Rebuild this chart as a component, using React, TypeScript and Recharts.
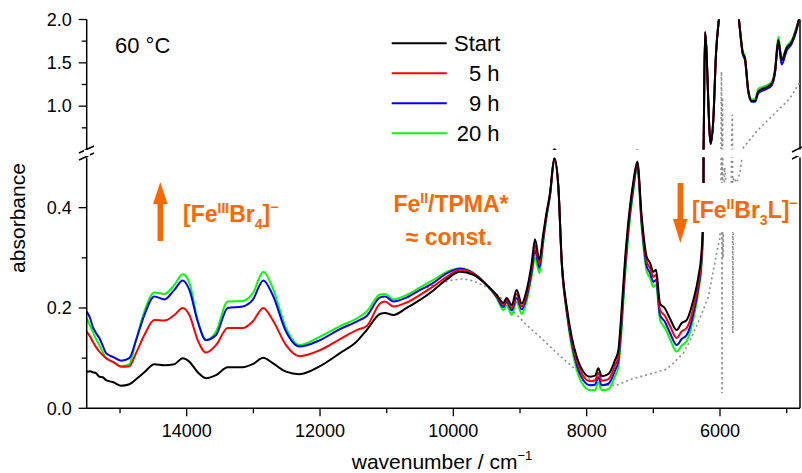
import { LineChart, Line, XAxis, YAxis, ReferenceLine } from 'recharts';

// wavenumber grid (cm-1) shared by the four kinetic spectra
const wavenumbers = [
  15500, 15450, 15410, 15360, 15310, 15260, 15210, 15100, 14985, 14860,
  14760, 14635, 14485, 14335, 14185, 14060, 13960, 13835, 13710, 13560,
  13385, 13160, 13010, 12850, 12710, 12510, 12310, 12000, 11700, 11450,
  11300, 11100, 11025, 10900, 10700, 10500, 10300, 10100, 9900, 9700,
  9500, 9350, 9250, 9200, 9125, 9050, 8975, 8900, 8825, 8775,
  8710, 8650, 8600, 8550, 8485, 8425, 8375, 8300, 8225, 8150,
  8050, 7950, 7875, 7825, 7775, 7675, 7575, 7525, 7490, 7425,
  7375, 7300, 7240, 7175, 7100, 7050, 7000, 6960, 6900, 6825,
  6750, 6650, 6575, 6500, 6400, 6325, 6275, 6250, 6225, 6140,
  6100, 6060, 6010, 5900, 5725, 5660, 5625, 5575, 5525, 5475,
  5425, 5300, 5225, 5175, 5125, 5075, 5000, 4925, 4850, 4800,
];

const start = [
  0.073, 0.074, 0.072, 0.070, 0.063, 0.062, 0.056, 0.052, 0.045, 0.048,
  0.058, 0.072, 0.088, 0.086, 0.088, 0.100, 0.093, 0.072, 0.060, 0.066,
  0.082, 0.082, 0.088, 0.101, 0.090, 0.073, 0.068, 0.084, 0.110, 0.133,
  0.156, 0.188, 0.190, 0.186, 0.200, 0.216, 0.235, 0.257, 0.272, 0.266,
  0.246, 0.226, 0.210, 0.220, 0.206, 0.236, 0.209, 0.236, 0.289, 0.337,
  0.296, 0.349, 0.392, 0.429, 0.499, 0.442, 0.296, 0.203, 0.143, 0.103,
  0.073, 0.063, 0.065, 0.080, 0.064, 0.068, 0.096, 0.116, 0.170, 0.296,
  0.372, 0.452, 0.492, 0.382, 0.302, 0.290, 0.272, 0.276, 0.209, 0.199,
  0.179, 0.156, 0.170, 0.176, 0.216, 0.262, 0.316, 0.400, 1.860, 0.570,
  0.850, 1.600, 2.050, 2.500, 2.050, 1.620, 1.550, 1.170, 1.060, 1.060,
  1.170, 1.220, 1.260, 1.400, 1.760, 1.530, 1.670, 1.740, 1.900, 2.050,
];

const h5 = [
  0.153, 0.143, 0.133, 0.122, 0.113, 0.106, 0.100, 0.092, 0.083, 0.084,
  0.110, 0.146, 0.176, 0.175, 0.186, 0.200, 0.186, 0.136, 0.111, 0.126,
  0.160, 0.160, 0.173, 0.200, 0.176, 0.126, 0.104, 0.116, 0.138, 0.156,
  0.164, 0.209, 0.213, 0.203, 0.211, 0.226, 0.243, 0.262, 0.276, 0.268,
  0.246, 0.224, 0.206, 0.216, 0.200, 0.228, 0.203, 0.228, 0.280, 0.325,
  0.288, 0.343, 0.388, 0.427, 0.498, 0.442, 0.294, 0.198, 0.136, 0.094,
  0.064, 0.054, 0.056, 0.071, 0.055, 0.058, 0.085, 0.104, 0.155, 0.283,
  0.362, 0.446, 0.488, 0.375, 0.292, 0.280, 0.262, 0.266, 0.196, 0.184,
  0.164, 0.140, 0.153, 0.160, 0.200, 0.250, 0.305, 0.390, 1.840, 0.570,
  0.850, 1.600, 2.050, 2.500, 2.050, 1.620, 1.550, 1.170, 1.060, 1.060,
  1.170, 1.220, 1.260, 1.400, 1.760, 1.530, 1.670, 1.740, 1.900, 2.050,
];

const h9 = [
  0.193, 0.180, 0.163, 0.150, 0.140, 0.125, 0.110, 0.102, 0.095, 0.100,
  0.136, 0.186, 0.223, 0.217, 0.236, 0.255, 0.236, 0.173, 0.136, 0.146,
  0.200, 0.203, 0.216, 0.255, 0.226, 0.153, 0.123, 0.136, 0.158, 0.173,
  0.184, 0.221, 0.223, 0.213, 0.221, 0.236, 0.250, 0.269, 0.278, 0.269,
  0.246, 0.222, 0.202, 0.212, 0.195, 0.220, 0.197, 0.222, 0.272, 0.315,
  0.280, 0.338, 0.385, 0.425, 0.497, 0.442, 0.292, 0.194, 0.130, 0.087,
  0.056, 0.046, 0.047, 0.062, 0.046, 0.049, 0.075, 0.094, 0.145, 0.275,
  0.355, 0.440, 0.484, 0.368, 0.283, 0.270, 0.252, 0.256, 0.186, 0.172,
  0.150, 0.126, 0.138, 0.146, 0.188, 0.240, 0.298, 0.380, 1.840, 0.560,
  0.840, 1.600, 2.050, 2.500, 2.050, 1.600, 1.530, 1.160, 1.050, 1.050,
  1.150, 1.200, 1.240, 1.380, 1.730, 1.480, 1.640, 1.720, 1.880, 2.050,
];

const h20 = [
  0.179, 0.165, 0.153, 0.138, 0.126, 0.112, 0.100, 0.092, 0.084, 0.088,
  0.136, 0.193, 0.231, 0.228, 0.246, 0.267, 0.250, 0.176, 0.136, 0.153,
  0.213, 0.214, 0.229, 0.272, 0.240, 0.160, 0.126, 0.143, 0.164, 0.179,
  0.193, 0.227, 0.228, 0.217, 0.226, 0.241, 0.256, 0.272, 0.279, 0.270,
  0.246, 0.220, 0.196, 0.205, 0.186, 0.212, 0.188, 0.214, 0.264, 0.300,
  0.270, 0.332, 0.382, 0.423, 0.496, 0.442, 0.290, 0.190, 0.122, 0.077,
  0.046, 0.036, 0.036, 0.052, 0.036, 0.038, 0.064, 0.082, 0.130, 0.262,
  0.345, 0.433, 0.480, 0.360, 0.273, 0.260, 0.242, 0.246, 0.176, 0.160,
  0.138, 0.113, 0.125, 0.134, 0.178, 0.232, 0.290, 0.370, 1.840, 0.580,
  0.860, 1.620, 2.050, 2.500, 2.050, 1.640, 1.570, 1.190, 1.080, 1.080,
  1.200, 1.240, 1.280, 1.430, 1.800, 1.550, 1.690, 1.760, 1.920, 2.050,
];

// grey reference trace (dotted baseline / solvent bands)
const refWavenumbers = [
  10400, 10200, 10000, 9850, 9700, 9500, 9300, 9100, 8900, 8650,
  8400, 8100, 7900, 7750, 7550, 7350, 7200, 7000, 6800, 6700,
  6550, 6450, 6300, 6175, 6050, 6000, 5985, 5978, 5970, 5962,
  5955, 5930, 5880, 5830, 5815, 5808, 5800, 5750, 5700, 5650,
  5450, 5200, 4950, 4800,
];
const refAbsorbance = [
  0.240, 0.250, 0.256, 0.258, 0.254, 0.242, 0.222, 0.193, 0.166, 0.136,
  0.104, 0.070, 0.053, 0.046, 0.046, 0.057, 0.063, 0.070, 0.078, 0.090,
  0.110, 0.135, 0.180, 0.222, 0.310, 0.340, 0.450, 1.400, 0.030, 1.100,
  0.300, 0.480, 0.400, 0.450, 0.900, 0.150, 0.460, 0.450, 0.470, 0.520,
  0.710, 0.900, 1.090, 1.280,
];

const xTicks = [15000, 14000, 13000, 12000, 11000, 10000, 9000, 8000, 7000, 6000, 5000];
const xLabelled = [14000, 12000, 10000, 8000, 6000];
const lowerTicks = [0, 0.1, 0.2, 0.3, 0.4];
const lowerLabelled = [0, 0.2, 0.4];
const upperTicks = [0.75, 1, 1.25, 1.5, 1.75, 2];
const upperLabelled = [1, 1.5, 2];

const series = [
  { key: 'h20', name: '20 h', color: '#00ff00' },
  { key: 'h9', name: '9 h', color: '#0000ff' },
  { key: 'h5', name: '5 h', color: '#ff0000' },
  { key: 'start', name: 'Start', color: '#000000' },
];

const W = 802;
const H = 473;
const AXIS_W = 86.7;
const X_DOMAIN: [number, number] = [4800, 15500];
const ORANGE = '#ff6600';
const FONT = '"Liberation Sans", Arial, Helvetica, sans-serif';

type Row = { wn: number; [k: string]: number };

const buildRows = (): Row[] => {
  const rows = new Map<number, Row>();
  wavenumbers.forEach((wn, i) => {
    rows.set(wn, { wn, start: start[i], h5: h5[i], h9: h9[i], h20: h20[i] });
  });
  refWavenumbers.forEach((wn, i) => {
    const r = rows.get(wn) ?? { wn };
    r.ref = refAbsorbance[i];
    rows.set(wn, r);
  });
  return [...rows.values()].sort((a, b) => b.wn - a.wn);
};

const data = buildRows();

const makeYTick = (labelled: number[]) => (props: any) => {
  const { x, y, payload } = props;
  const major = labelled.includes(payload.value);
  return (
    <g>
      <line x1={x} x2={x - (major ? 8 : 5)} y1={y} y2={y} stroke="#000" strokeWidth={1.3} />
      {major && (
        <text x={x - 15} y={y + 6.3} textAnchor="end" fontSize={18} fill="#000" fontFamily={FONT}>
          {payload.value.toFixed(1)}
        </text>
      )}
    </g>
  );
};

const UpperTick = makeYTick(upperLabelled);
const LowerTick = makeYTick(lowerLabelled);

const BottomTick = (props: any) => {
  const { x, y, payload } = props;
  const major = xLabelled.includes(payload.value);
  return (
    <g>
      <line x1={x} x2={x} y1={y} y2={y + (major ? 8 : 5)} stroke="#000" strokeWidth={1.3} />
      {major && (
        <text x={x} y={y + 28.5} textAnchor="middle" fontSize={18} fill="#000" fontFamily={FONT}>
          {payload.value}
        </text>
      )}
    </g>
  );
};

const TopTick = (props: any) => {
  const { x, y } = props;
  return <line x1={x} x2={x} y1={y} y2={y + 4} stroke="#000" strokeWidth={1} />;
};

const renderLines = () => [
  <Line
    key="ref"
    dataKey="ref"
    type="linear"
    stroke="#8c8c8c"
    strokeWidth={1.6}
    strokeDasharray="2 3"
    dot={false}
    activeDot={false}
    connectNulls
    isAnimationActive={false}
  />,
  ...series.map((s) => (
    <Line
      key={s.key}
      dataKey={s.key}
      name={s.name}
      type="monotoneX"
      stroke={s.color}
      strokeWidth={2}
      dot={false}
      activeDot={false}
      connectNulls
      isAnimationActive={false}
    />
  )),
];

const axisLine = { stroke: '#000', strokeWidth: 1.5 };

const legendRows = [...series].reverse();

export default function App() {
  return (
    <div style={{ position: 'absolute', left: 0, top: 0, width: W, height: H, background: '#fff', fontFamily: FONT }}>
      <div style={{ position: 'absolute', left: 0, top: 0 }}>
        <LineChart width={W} height={150} data={data} margin={{ top: 19.5, right: 2, bottom: 0.5, left: 0 }}>
          <XAxis dataKey="wn" type="number" domain={X_DOMAIN} reversed allowDataOverflow hide />
          <XAxis
            xAxisId="top"
            dataKey="wn"
            type="number"
            orientation="top"
            domain={X_DOMAIN}
            reversed
            allowDataOverflow
            ticks={xTicks}
            interval={0}
            height={0}
            tickSize={0}
            tickMargin={0}
            tickLine={false}
            tick={TopTick}
            axisLine={axisLine}
          />
          <YAxis
            type="number"
            domain={[0.5, 2]}
            allowDataOverflow
            ticks={upperTicks}
            interval={0}
            width={AXIS_W}
            tickSize={0}
            tickMargin={0}
            tickLine={false}
            tick={UpperTick}
            axisLine={axisLine}
          />
          <ReferenceLine x={4800} stroke="#000" strokeWidth={1.5} />
          {renderLines()}
        </LineChart>
      </div>
      <div style={{ position: 'absolute', left: 0, top: 0 }}>
        <LineChart width={W} height={H} data={data} margin={{ top: 157.5, right: 2, bottom: 0, left: 0 }}>
          <XAxis
            dataKey="wn"
            type="number"
            domain={X_DOMAIN}
            reversed
            allowDataOverflow
            ticks={xTicks}
            interval={0}
            height={64.7}
            tickSize={0}
            tickMargin={0}
            tickLine={false}
            tick={BottomTick}
            axisLine={axisLine}
          />
          <YAxis
            type="number"
            domain={[0, 0.5]}
            allowDataOverflow
            ticks={lowerTicks}
            interval={0}
            width={AXIS_W}
            tickSize={0}
            tickMargin={0}
            tickLine={false}
            tick={LowerTick}
            axisLine={axisLine}
          />
          <ReferenceLine x={4800} stroke="#000" strokeWidth={1.5} />
          {renderLines()}
        </LineChart>
      </div>

      <svg width={W} height={H} style={{ position: 'absolute', left: 0, top: 0, pointerEvents: 'none' }} fontFamily={FONT}>
        {/* axis titles */}
        <text transform="translate(25,218) rotate(-90)" textAnchor="middle" fontSize={21} fill="#000">
          absorbance
        </text>
        <text x={442} y={469} textAnchor="middle" fontSize={21} fill="#000">
          wavenumber / cm<tspan dy={-9} fontSize={13}>−1</tspan>
        </text>

        <text x={115} y={53} fontSize={22} fill="#000">60 °C</text>

        {/* legend */}
        {legendRows.map((s, i) => {
          const y = 43.3 + i * 30;
          return (
            <g key={s.key}>
              <line x1={391.7} x2={446.7} y1={y} y2={y} stroke={s.color} strokeWidth={2} />
              <text
                x={s.key === 'start' ? 454 : 499.5}
                y={y + 8}
                textAnchor={s.key === 'start' ? 'start' : 'end'}
                fontSize={22}
                fill="#000"
              >
                {s.name}
              </text>
            </g>
          );
        })}

        {/* axis break marks */}
        <g stroke="#000" strokeWidth={1.4}>
          <line x1={79} y1={153} x2={94} y2={146} />
          <line x1={79} y1={160} x2={94} y2={153} />
          <line x1={792} y1={152} x2={802} y2={147} />
          <line x1={792} y1={159} x2={802} y2={154} />
        </g>
        <rect x={84} y={150} width={6} height={6} fill="#fff" />
        <rect x={797} y={150} width={5} height={6} fill="#fff" />

        {/* annotations */}
        <g fill={ORANGE}>
          <rect x={157.5} y={200} width={5.5} height={41} />
          <polygon points="153,204 160.3,182 167.5,204" />
          <rect x={677.5} y={183} width={5.5} height={38} />
          <polygon points="673,219 680.3,243 687.5,219" />
        </g>
        <g fill={ORANGE} fontWeight="bold" fontSize={23}>
          <text x={183} y={222}>
            [Fe<tspan dy={-9} fontSize={14}>III</tspan>
            <tspan dy={9}>Br</tspan>
            <tspan dy={7} fontSize={14}>4</tspan>
            <tspan dy={-7}>]</tspan>
            <tspan dy={-10} fontSize={14}>−</tspan>
          </text>
          <text x={451} y={212} textAnchor="middle">
            Fe<tspan dy={-9} fontSize={14}>II</tspan>
            <tspan dy={9}>/TPMA*</tspan>
          </text>
          <text x={449} y={245} textAnchor="middle">≈ const.</text>
        </g>
        <rect x={689} y={183} width={110} height={49} fill="#fff" />
        <g fill={ORANGE} fontWeight="bold" fontSize={23}>
          <text x={692} y={218}>
            [Fe<tspan dy={-9} fontSize={14}>II</tspan>
            <tspan dy={9}>Br</tspan>
            <tspan dy={7} fontSize={14}>3</tspan>
            <tspan dy={-7}>L]</tspan>
            <tspan dy={-10} fontSize={14}>−</tspan>
          </text>
        </g>
      </svg>
    </div>
  );
}
